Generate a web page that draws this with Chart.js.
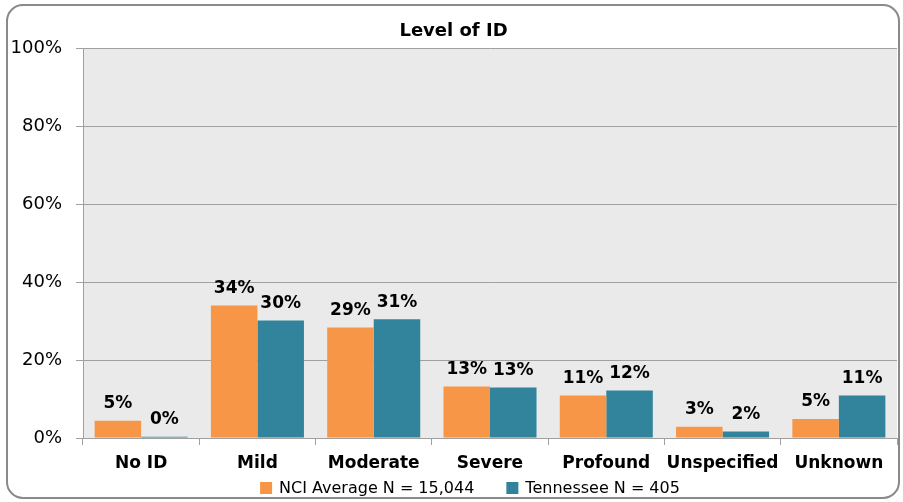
<!DOCTYPE html>
<html>
<head>
<meta charset="utf-8">
<script src="https://cdn.jsdelivr.net/npm/chart.js@4/dist/chart.umd.min.js"></script>
<style>
html,body{margin:0;padding:0;background:#fff;}
#wrap{position:relative;width:903px;height:502px;}
canvas{display:block;}
</style>
</head>
<body>
<div id="wrap"><canvas id="c" width="903" height="502"></canvas></div>
<script>
const categories = ["No ID", "Mild", "Moderate", "Severe", "Profound", "Unspecified", "Unknown"];
const nciValues = [4.4, 34.0, 28.4, 13.2, 10.9, 2.9, 4.9];
const tnValues = [0.3, 30.2, 30.5, 13.0, 12.2, 1.7, 10.9];
const nciLabels = ["5%", "34%", "29%", "13%", "11%", "3%", "5%"];
const tnLabels = ["0%", "30%", "31%", "13%", "12%", "2%", "11%"];
const seriesNames = ["NCI Average N = 15,044", "Tennessee N = 405"];
const yTicks = [0, 20, 40, 60, 80, 100];

const FONT = "'DejaVu Sans', Verdana, sans-serif";
const valueLabels = [nciLabels, tnLabels];

const bgPlugin = {
  id: 'bg',
  beforeDraw(chart) {
    const {ctx, chartArea: a} = chart;
    ctx.save();
    ctx.fillStyle = '#FFFFFF';
    ctx.fillRect(0, 0, chart.width, chart.height);
    ctx.fillStyle = '#EAEAEA';
    ctx.fillRect(a.left, a.top, a.right - a.left, a.bottom - a.top);
    ctx.restore();
  },
  afterDraw(chart) {
    const ctx = chart.ctx;
    ctx.save();
    ctx.strokeStyle = '#8A8A8A';
    ctx.lineWidth = 2;
    ctx.beginPath();
    ctx.roundRect(7, 5, 892, 493, 16);
    ctx.stroke();
    ctx.restore();
  }
};

// legend drawn below the category axis, Excel-style spacing
const legendPlugin = {
  id: 'xlLegend',
  afterDraw(chart) {
    const ctx = chart.ctx;
    ctx.save();
    ctx.font = "16px " + FONT;
    ctx.textBaseline = 'middle';
    ctx.textAlign = 'left';
    const box = 12, gapText = 7, gapItem = 32;
    const ds = chart.data.datasets;
    const widths = ds.map(d => ctx.measureText(d.label).width);
    const total = widths.reduce((s, w) => s + box + gapText + w, 0) + gapItem * (ds.length - 1);
    const cx = (chart.chartArea.left + chart.chartArea.right) / 2 - 20;
    const cy = chart.chartArea.bottom + 50;
    let x = cx - total / 2;
    ds.forEach((d, i) => {
      ctx.fillStyle = d.backgroundColor;
      ctx.fillRect(x, cy - box / 2, box, box);
      ctx.fillStyle = '#000';
      ctx.fillText(d.label, x + box + gapText, cy + 1);
      x += box + gapText + widths[i] + gapItem;
    });
    ctx.restore();
  }
};

const labelPlugin = {
  id: 'vlabels',
  afterDatasetsDraw(chart) {
    const ctx = chart.ctx;
    ctx.save();
    ctx.font = "bold 17px " + FONT;
    ctx.fillStyle = '#000';
    ctx.textAlign = 'center';
    ctx.textBaseline = 'middle';
    chart.data.datasets.forEach((ds, di) => {
      const meta = chart.getDatasetMeta(di);
      meta.data.forEach((el, i) => {
        ctx.fillText(valueLabels[di][i], el.x, el.y - 17);
      });
    });
    ctx.restore();
  }
};

new Chart(document.getElementById('c'), {
  type: 'bar',
  data: {
    labels: categories,
    datasets: [
      {label: seriesNames[0], data: nciValues, backgroundColor: '#F79646', borderWidth: 0},
      {label: seriesNames[1], data: tnValues, backgroundColor: '#31849B', borderWidth: 0}
    ]
  },
  options: {
    responsive: false,
    animation: false,
    devicePixelRatio: 1,
    layout: {padding: {left: 10, right: 6, top: 0, bottom: 28}},
    datasets: {bar: {categoryPercentage: 0.8, barPercentage: 1.0}},
    plugins: {
      title: {
        display: true, text: 'Level of ID', color: '#000',
        font: {family: FONT, size: 18, weight: 'bold'},
        padding: {top: 21, bottom: 6}
      },
      legend: {display: false},
      tooltip: {enabled: false}
    },
    scales: {
      x: {
        afterFit(scale) { scale.height = 36; },
        grid: {display: true, offset: true, drawOnChartArea: false, drawTicks: true, tickLength: 7, color: '#A0A0A0'},
        border: {display: true, color: '#A0A0A0', width: 1},
        ticks: {color: '#000', font: {family: FONT, size: 17, weight: 'bold'}, padding: 8, maxRotation: 0, autoSkip: false}
      },
      y: {
        min: 0, max: 100,
        afterFit(scale) { scale.width = 73; },
        afterBuildTicks(scale) { scale.ticks = yTicks.map(v => ({value: v})); },
        grid: {color: '#A0A0A0', tickLength: 7, drawTicks: true},
        border: {display: true, color: '#A0A0A0', width: 1},
        ticks: {color: '#000', font: {family: FONT, size: 18}, padding: 14, callback: v => v + '%'}
      }
    }
  },
  plugins: [bgPlugin, labelPlugin, legendPlugin]
});
</script>
</body>
</html>
